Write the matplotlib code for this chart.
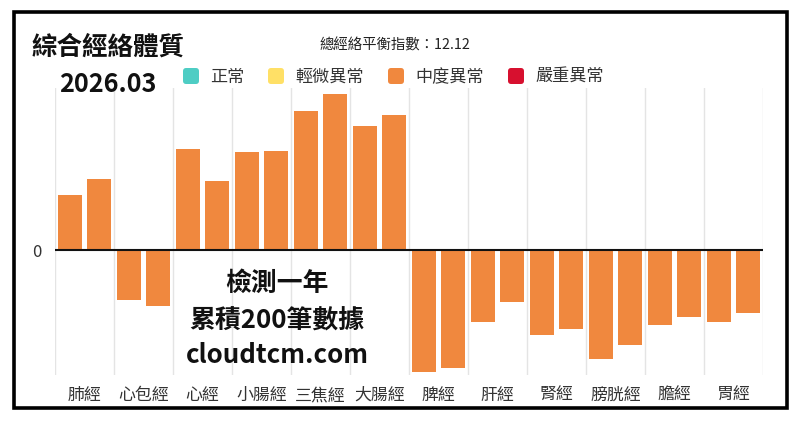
import matplotlib
matplotlib.use("Agg")
import matplotlib.pyplot as plt
import numpy as np
from matplotlib.patches import FancyBboxPatch, Rectangle

plt.rcParams['font.family'] = ['Noto Sans CJK TC', 'DejaVu Sans']

categories = ['肺經', '心包經', '心經', '小腸經', '三焦經', '大腸經',
              '脾經', '肝經', '腎經', '膀胱經', '膽經', '胃經']
left_values = [54.6, -50, 101, 97.6, 138.6, 124.3, -122, -72, -85, -109, -75, -72]
right_values = [71, -56, 69, 99.3, 156.3, 135, -118, -52, -79, -95, -67, -63]
legend_labels = ['正常', '輕微異常', '中度異常', '嚴重異常']
legend_colors = ['#4ECDC4', '#FFE066', '#F0883E', '#D7102F']
bar_color = '#F0883E'
title = '綜合經絡體質'
date_text = '2026.03'
index_text = '總經絡平衡指數：12.12'
overlay_lines = ['檢測一年', '累積200筆數據', 'cloudtcm.com']

W, H = 800, 423
fig = plt.figure(figsize=(W / 100, H / 100), dpi=100)

# axes placement (pixels)
ax_l, ax_r, ax_t, ax_b = 55, 763, 88, 375
ax = fig.add_axes([ax_l / W, 1 - ax_b / H, (ax_r - ax_l) / W, (ax_b - ax_t) / H])

x = np.arange(len(categories))
bw = 0.4
ax.bar(x - 0.25, left_values, width=bw, color=bar_color, zorder=2)
ax.bar(x + 0.25, right_values, width=bw, color=bar_color, zorder=2)
ax.set_xlim(-0.5, len(categories) - 0.5)
ax.set_ylim(-125, 162)

for b in np.arange(-0.5, len(categories) + 0.5, 1):
    ax.axvline(b, color='#e4e4e4', lw=1, zorder=0)
ax.axhline(0, color='#111111', lw=1.5, zorder=3)

for s in ax.spines.values():
    s.set_visible(False)
ax.set_xticks(x)
ax.set_xticklabels(categories, fontsize=12.2, color='#333333')
ax.tick_params(axis='x', length=0, pad=8)
ax.set_yticks([0])
ax.set_yticklabels(['0'], fontsize=12, color='#333333')
ax.tick_params(axis='y', length=0, pad=10)

# frame
fig.patches.append(Rectangle((14.5 / W, 1 - 408 / H), (787 - 14.5) / W, (408 - 12) / H,
                             transform=fig.transFigure, fill=False, edgecolor='black',
                             linewidth=2.6))

def fx(px):
    return px / W

def fy(py):
    return 1 - py / H

fig.text(fx(32), fy(47), title, fontsize=18.4, fontweight='bold', va='center', ha='left', color='#111111')
fig.text(fx(59), fy(84), date_text, fontsize=18.2, fontweight='bold', va='center', ha='left', color='#111111')
fig.text(fx(395), fy(45), index_text, fontsize=10.4, va='center', ha='center', color='#222222')

# legend
leg_x = [183, 268, 388, 508]
for lx, lab, col in zip(leg_x, legend_labels, legend_colors):
    fig.patches.append(FancyBboxPatch((fx(lx), fy(84)), 16 / W, 16 / H,
                                      boxstyle='round,pad=0,rounding_size=0.004',
                                      transform=fig.transFigure, facecolor=col,
                                      edgecolor='none', mutation_aspect=W / H))
    fig.text(fx(lx + 27), fy(77), lab, fontsize=12.3, va='center', ha='left', color='#333333')

# overlay text
for yy, line in zip([283, 321, 355], overlay_lines):
    fig.text(fx(277), fy(yy), line, fontsize=18.6, fontweight='bold', va='center', ha='center',
             color='#111111')

fig.savefig('out.png', dpi=100)
